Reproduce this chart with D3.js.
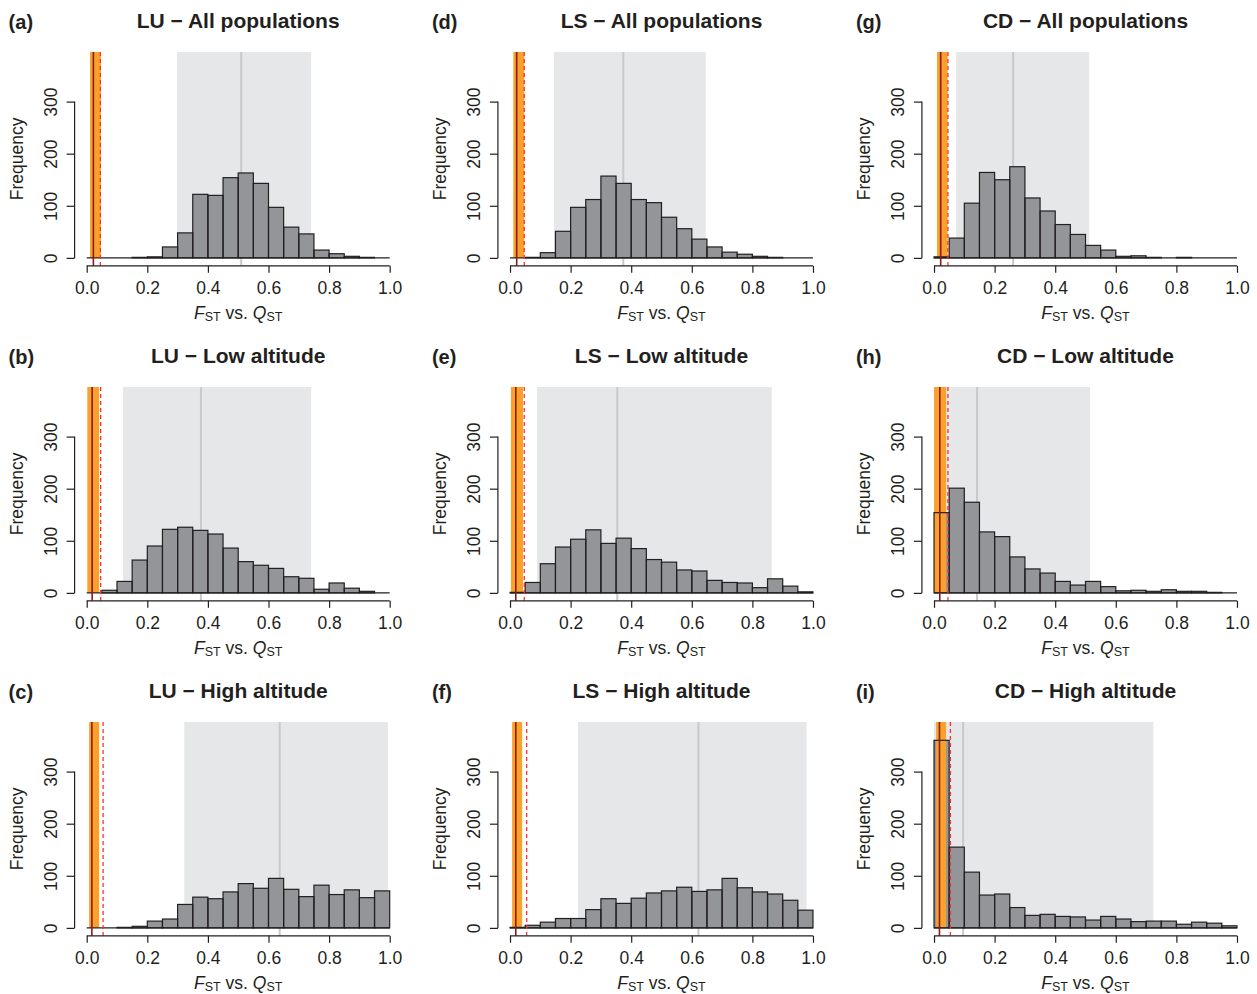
<!DOCTYPE html>
<html><head><meta charset="utf-8">
<script src="https://cdn.jsdelivr.net/npm/d3@7"></script>
<style>
body{margin:0;background:#fff;}
text{font-family:"Liberation Sans",Arial,sans-serif;fill:#231f20;}
</style></head>
<body><svg id="c" width="1257" height="994"></svg>
<script>
// ---- data ----
const panelLabels = ["(a)","(b)","(c)","(d)","(e)","(f)","(g)","(h)","(i)"];
const titles = ["LU \u2212 All populations","LU \u2212 Low altitude","LU \u2212 High altitude",
  "LS \u2212 All populations","LS \u2212 Low altitude","LS \u2212 High altitude",
  "CD \u2212 All populations","CD \u2212 Low altitude","CD \u2212 High altitude"];
const binStarts = [0,0.05,0.1,0.15,0.2,0.25,0.3,0.35,0.4,0.45,0.5,0.55,0.6,0.65,0.7,0.75,0.8,0.85,0.9,0.95];
const binWidth = 0.05;
const countsA = [0,0,0,1,2,21,48,122,120,154,163,143,97,59,46,15,8,3,1,0];
const countsB = [0,5,22,63,90,122,126,120,113,86,60,53,47,31,28,7,19,9,3,0];
const countsC = [0,0,1,3,13,17,45,59,56,69,85,76,95,74,60,82,64,73,58,71];
const countsD = [0,1,10,51,97,112,157,143,112,106,78,56,36,21,11,7,3,1,0,0];
const countsE = [1,20,56,88,103,121,95,105,85,64,59,44,42,24,20,19,10,27,13,2];
const countsF = [1,5,11,18,18,35,56,47,57,67,71,78,70,73,95,77,69,65,53,34];
const countsG = [2,38,105,164,150,175,115,90,64,45,24,15,3,4,1,0,1,0,0,0];
const countsH = [154,201,174,117,108,69,46,38,22,15,22,12,4,5,3,6,3,3,1,0];
const countsI = [360,155,107,63,65,39,24,26,22,21,15,22,17,12,13,13,7,11,9,4];
const allCounts = [countsA,countsB,countsC,countsD,countsE,countsF,countsG,countsH,countsI];
// FST interval (orange), FST mean (dark red line), FST upper (dashed red)
const fstLow   = [0.011,0.002,0.008,0.011,0.003,0.007,0.010,0.000,0.007];
const fstHigh  = [0.047,0.041,0.041,0.047,0.043,0.040,0.045,0.040,0.040];
const fstMean  = [0.022,0.018,0.017,0.022,0.019,0.019,0.022,0.019,0.018];
const fstUpper = [0.045,0.046,0.054,0.047,0.047,0.055,0.046,0.046,0.054];
// QST interval (grey) and median (grey line)
const qstLow    = [0.298,0.120,0.322,0.145,0.089,0.224,0.073,0.005,0.000];
const qstHigh   = [0.741,0.741,0.994,0.646,0.864,0.979,0.512,0.515,0.724];
const qstMedian = [0.510,0.377,0.637,0.374,0.354,0.622,0.261,0.142,0.096];
const xTicks = [0,0.2,0.4,0.6,0.8,1.0];
const yTicks = [0,100,200,300];

// ---- layout ----
const colLeft = [74.6, 497.9, 921.9];
const rowTop = [52, 387, 722];
const PW = 327.2, PH = 213.8;
const svg = d3.select("#c");
const ink = "#231f20";

for (let p = 0; p < 9; p++) {
  const col = Math.floor(p / 3), row = p % 3;
  const L = colLeft[col], T = rowTop[row];
  const x = d3.scaleLinear().domain([-0.04, 1.04]).range([L, L + PW]);
  const y = d3.scaleLinear().domain([-15.2, 395.2]).range([T + PH, T]);
  const g = svg.append("g");
  const counts = allCounts[p];
  const bins = binStarts.map((b, i) => ({x0: b, x1: b + binWidth, n: counts[i]}));

  // grey QST interval
  g.append("rect").attr("x", x(qstLow[p])).attr("y", y(395.2))
    .attr("width", x(qstHigh[p]) - x(qstLow[p])).attr("height", y(0) - y(395.2))
    .attr("fill", "#e6e7e8");
  // median line
  g.append("line").attr("x1", x(qstMedian[p])).attr("x2", x(qstMedian[p]))
    .attr("y1", y(395.2)).attr("y2", y(-15.2)).attr("stroke", "#c8c9cb").attr("stroke-width", 2);
  // bars fill
  g.selectAll("rect.bf").data(bins).join("rect").attr("class", "bf")
    .attr("x", d => x(d.x0)).attr("width", d => x(d.x1) - x(d.x0))
    .attr("y", d => y(d.n)).attr("height", d => y(0) - y(d.n))
    .attr("fill", "#939598");
  // orange FST interval
  g.append("rect").attr("x", x(fstLow[p])).attr("y", y(395.2))
    .attr("width", x(fstHigh[p]) - x(fstLow[p])).attr("height", y(0) - y(395.2))
    .attr("fill", "#f9a12a");
  // bar outlines
  g.selectAll("rect.bo").data(bins.filter(d => d.n > 0)).join("rect").attr("class", "bo")
    .attr("x", d => x(d.x0)).attr("width", d => x(d.x1) - x(d.x0))
    .attr("y", d => y(d.n)).attr("height", d => y(0) - y(d.n))
    .attr("fill", "none").attr("stroke", ink).attr("stroke-width", 1.2);
  g.append("line").attr("x1", x(0)).attr("x2", x(1)).attr("y1", y(0)).attr("y2", y(0))
    .attr("stroke", ink).attr("stroke-width", 1.2);
  // FST mean & upper
  g.append("line").attr("x1", x(fstMean[p])).attr("x2", x(fstMean[p]))
    .attr("y1", y(395.2)).attr("y2", y(-15.2)).attr("stroke", "#8b1a1a").attr("stroke-width", 1.6);
  g.append("line").attr("x1", x(fstUpper[p])).attr("x2", x(fstUpper[p]))
    .attr("y1", y(395.2)).attr("y2", y(-15.2)).attr("stroke", "#ff3030").attr("stroke-width", 1.3)
    .attr("stroke-dasharray", "4,3");

  // x axis
  const xa = g.append("g").attr("transform", `translate(0,${T + PH})`)
    .call(d3.axisBottom(x).tickValues(xTicks).tickSize(7).tickSizeOuter(0).tickFormat(d3.format(".1f")));
  xa.select(".domain").remove();
  xa.append("line").attr("x1", x(0)).attr("x2", x(1)).attr("stroke", ink).attr("stroke-width", 1.2);
  xa.selectAll(".tick line").attr("stroke", ink).attr("stroke-width", 1.2);
  xa.selectAll(".tick text").attr("y", 28).attr("dy", null).attr("font-size", "17.5px")
    .attr("font-family", "Liberation Sans, Arial, sans-serif").attr("fill", "#231f20");

  // y axis
  const ya = g.append("g").attr("transform", `translate(${L},0)`)
    .call(d3.axisLeft(y).tickValues(yTicks).tickSize(8).tickSizeOuter(0));
  ya.select(".domain").remove();
  ya.append("line").attr("y1", y(0)).attr("y2", y(300)).attr("stroke", ink).attr("stroke-width", 1.2);
  ya.selectAll(".tick line").attr("stroke", ink).attr("stroke-width", 1.2);
  ya.selectAll(".tick text").attr("x", null).attr("dy", null)
    .attr("transform", "translate(-18,0) rotate(-90)").attr("text-anchor", "middle")
    .attr("font-size", "17.5px").attr("font-family", "Liberation Sans, Arial, sans-serif").attr("fill", "#231f20");

  // y label
  g.append("text").attr("transform", `translate(${L - 51.5},${T + PH / 2}) rotate(-90)`)
    .attr("text-anchor", "middle").attr("font-size", "17.5px").text("Frequency");
  // x label
  const xl = g.append("text").attr("x", x(0.5)).attr("y", T + PH + 53)
    .attr("text-anchor", "middle").attr("font-size", "17.5px");
  xl.append("tspan").attr("font-style", "italic").text("F");
  xl.append("tspan").attr("font-size", "12.5px").attr("dy", 2.5).text("ST");
  xl.append("tspan").attr("dy", -2.5).text(" vs. ");
  xl.append("tspan").attr("font-style", "italic").text("Q");
  xl.append("tspan").attr("font-size", "12.5px").attr("dy", 2.5).text("ST");
  // title
  g.append("text").attr("x", L + PW / 2).attr("y", T - 24).attr("text-anchor", "middle")
    .attr("font-size", "21px").attr("font-weight", "bold").text(titles[p]);
  // panel label
  g.append("text").attr("x", L - 66).attr("y", T - 23).attr("font-size", "20px")
    .attr("font-weight", "bold").text(panelLabels[p]);
}
</script></body></html>
